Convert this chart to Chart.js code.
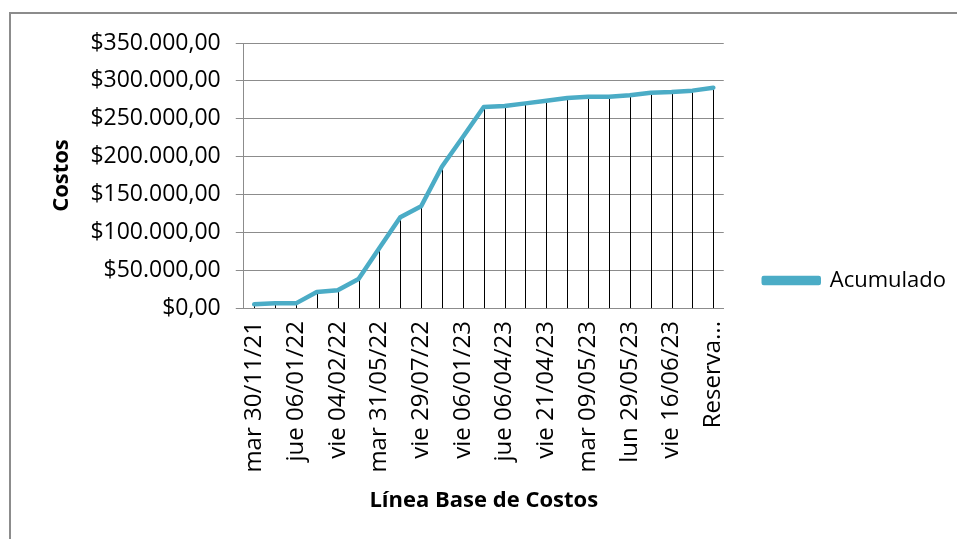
<!DOCTYPE html>
<html>
<head>
<meta charset="utf-8">
<script src="https://cdn.jsdelivr.net/npm/chart.js@4"></script>
<style>
  html, body { margin: 0; padding: 0; background: #fff; }
  #wrap { position: relative; width: 957px; height: 539px; overflow: hidden; }
  #frame { position: absolute; left: 9px; top: 12px; width: 1000px; height: 600px;
           border-left: 2px solid #8c8c8c; border-top: 2px solid #8c8c8c; }
  #myChart { position: absolute; left: 0; top: 0; }
</style>
</head>
<body>
<div id="wrap">
  <div id="frame"></div>
  <canvas id="myChart" width="957" height="539"></canvas>
</div>
<script>
// categories (only every other label is readable in the source)
const categories = [
  "mar 30/11/21", "", "jue 06/01/22", "", "vie 04/02/22", "",
  "mar 31/05/22", "", "vie 29/07/22", "", "vie 06/01/23", "",
  "jue 06/04/23", "", "vie 21/04/23", "", "mar 09/05/23", "",
  "lun 29/05/23", "", "vie 16/06/23", "", "Reserva..."
];
const acumulado = [
  5000, 6200, 6200, 21200, 23400, 38400, 79400, 120000, 134500, 187000,
  225800, 265400, 266800, 270300, 273800, 277400, 279100, 279100, 280900,
  284400, 285300, 287100, 291000
];
const yTicks = { min: 0, max: 350000, step: 50000 };

function money(v) {
  const s = Math.round(v).toString().replace(/\B(?=(\d{3})+(?!\d))/g, ".");
  return "$" + s + ",00";
}

const FONT = "'Open Sans', 'Noto Sans', sans-serif";

// Excel style drop lines from each point down to the category axis
const dropLines = {
  id: "dropLines",
  beforeDatasetsDraw(chart) {
    const ctx = chart.ctx;
    const meta = chart.getDatasetMeta(0);
    const bottom = chart.scales.y.getPixelForValue(0);
    ctx.save();
    ctx.strokeStyle = "#000";
    ctx.lineWidth = 1;
    meta.data.forEach(pt => {
      const x = Math.round(pt.x) + 0.5;
      ctx.beginPath();
      ctx.moveTo(x, pt.y);
      ctx.lineTo(x, bottom);
      ctx.stroke();
    });
    ctx.restore();
  }
};

const ctx = document.getElementById("myChart").getContext("2d");
const myChart = new Chart(ctx, {
  type: "line",
  data: {
    labels: categories,
    datasets: [{
      label: "Acumulado",
      data: acumulado,
      borderColor: "#4bacc6",
      backgroundColor: "#4bacc6",
      borderWidth: 4.5,
      pointRadius: 0,
      tension: 0,
      borderJoinStyle: "round",
      borderCapStyle: "round"
    }]
  },
  plugins: [dropLines],
  options: {
    responsive: false,
    animation: false,
    layout: { padding: { left: 45, top: 43, right: 7, bottom: 21 } },
    plugins: {
      legend: {
        position: "right",
        labels: {
          boxWidth: 55,
          boxHeight: 5,
          padding: 40,
          color: "#000",
          font: { family: FONT, size: 22 }
        }
      },
      tooltip: { enabled: false }
    },
    scales: {
      x: {
        offset: true,
        grid: { display: false, drawTicks: false },
        border: { color: "#8c8c8c", width: 1 },
        ticks: {
          autoSkip: false,
          maxRotation: 90,
          minRotation: 90,
          padding: 13,
          color: "#000",
          font: { family: FONT, size: 24 }
        },
        title: {
          display: true,
          text: "Línea Base de Costos",
          color: "#000",
          font: { family: FONT, size: 22, weight: "bold" },
          padding: { top: 2, bottom: 4 }
        }
      },
      y: {
        min: yTicks.min,
        max: yTicks.max,
        grid: { color: "#8c8c8c", tickLength: 8 },
        border: { color: "#8c8c8c" },
        ticks: {
          stepSize: yTicks.step,
          color: "#000",
          padding: 15,
          font: { family: FONT, size: 23 },
          callback: v => money(v)
        },
        title: {
          display: true,
          text: "Costos",
          color: "#000",
          font: { family: FONT, size: 22, weight: "bold" },
          padding: { top: 4, bottom: 0 }
        }
      }
    }
  }
});
</script>
</body>
</html>
